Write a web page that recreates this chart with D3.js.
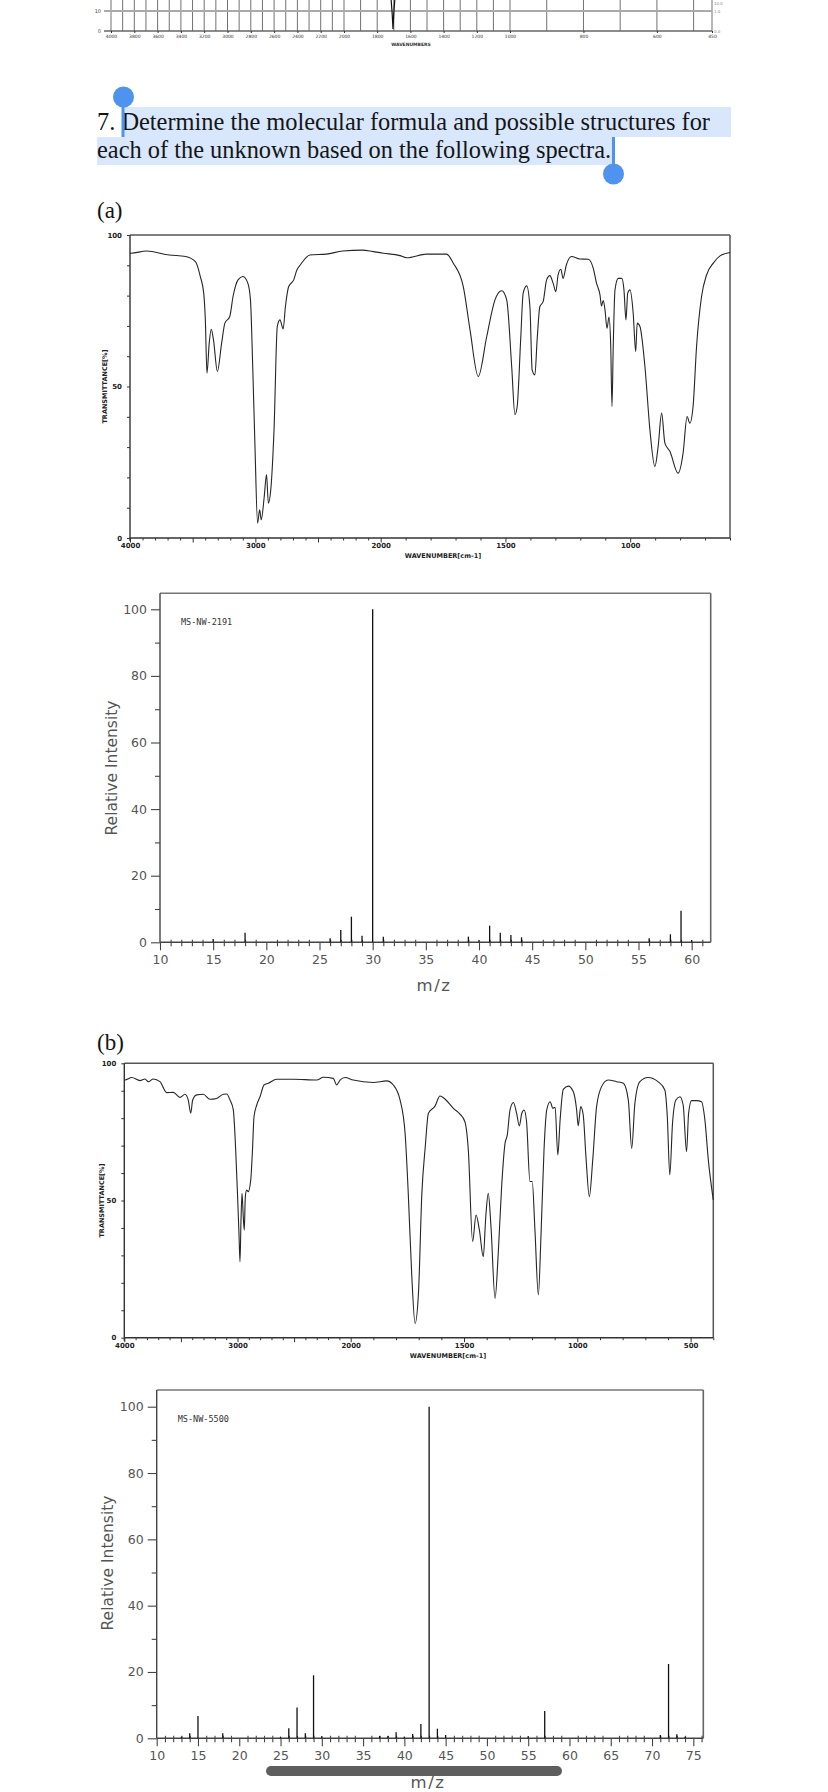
<!DOCTYPE html>
<html><head><meta charset="utf-8">
<script src="https://cdn.jsdelivr.net/npm/d3@7"></script>
<style>body{margin:0;background:#fff;} svg{display:block;}</style>
</head><body>
<svg id="c" width="828" height="1792"></svg>
<script>
// ---------- DATA ----------
// partial spectrum strip at the very top
const topGridWavenumbers = d3.range(4000, 499, -100).concat([450]);
const topTickLabels = [4000,3800,3600,3400,3200,3000,2800,2600,2400,2200,2000,1800,1600,1400,1200,1000,800,600,450];
const topStripWn = [1716, 1710, 1705, 1700, 1694];
const topStripT  = [16, 9, 1, 9, 16];

// IR (a)
const irA_wn = [4000,3992,3869,3687,3556,3478,3439,3412,3399,3386,
3368,3352,3334,3303,3269,3243,3204,3178,3138,3099,
3060,3039,3021,3003,2982,2966,2953,2929,2911,2896,
2877,2851,2825,2804,2778,2760,2734,2694,2668,2642,
2564,2433,2303,2146,2060,1989,1923,1896,1816,1736,
1709,1669,1642,1609,1575,1542,1515,1495,1475,1462,
1453,1439,1429,1415,1402,1393,1382,1373,1362,1349,
1335,1322,1309,1298,1289,1278,1269,1256,1235,1202,
1168,1148,1135,1121,1115,1108,1101,1093,1085,1078,
1073,1068,1061,1048,1034,1025,1017,1010,1001,988,
978,972,961,941,921,901,888,874,861,841,
808,788,772,761,748,734,714,694,667,640,
600];
const irA_T = [94,94,94.7,93.4,92.9,91.2,86.3,80.8,72,54.4,
64.3,68.9,65.4,55,64.3,70.9,73.1,79.7,85.2,86.3,
84.1,78.6,56.6,30.2,4.9,9.3,6,13.7,20.9,11.5,
15.9,35.7,69.8,72,69,76.4,83,85.2,88.5,90.1,
93.4,93.7,94.7,95,94.5,94,93.2,92.5,93.7,93.7,
90.7,83,68.7,53.3,66.5,78.6,81.6,78.6,56.6,40.7,
43.4,65.4,80.8,83.2,76.4,55.5,53.8,65.4,76.4,78,
85.2,86.6,84.1,81.3,86.8,88.7,85.7,90.1,92.9,92.1,
92,89,84.1,80.2,76.6,78.4,75.3,69.2,72.9,63.2,
43.4,63.2,81.9,85.7,85.7,81.9,72,80.8,81.9,74.2,
61.5,70.9,69.8,56.6,35.7,23.6,30.2,41.2,31.3,28.6,
21.4,28,40.1,37.9,43.4,63.2,79.7,86.8,90.7,93.1,
94.2];
const irA_tickLabels = [4000,3000,2000,1500,1000];

// IR (b)
const irB_wn = [4000,3994,3935,3861,3817,3788,3744,3685,3625,3567,
3508,3464,3435,3413,3396,3360,3302,3243,3184,3125,
3095,3066,3037,3016,2998,2987,2978,2969,2960,2949,
2940,2931,2919,2905,2883,2869,2854,2830,2801,2766,
2728,2654,2507,2300,2242,2154,2124,2094,2050,1989,
1900,1841,1812,1782,1760,1746,1731,1716,1701,1686,
1671,1657,1628,1606,1584,1547,1518,1496,1481,1462,
1447,1432,1415,1404,1393,1381,1363,1349,1334,1319,
1309,1297,1282,1268,1256,1245,1235,1224,1209,1199,
1187,1172,1160,1147,1135,1120,1108,1098,1086,1076,
1062,1040,1018,1003,996,985,974,962,947,932,
915,893,864,827,797,775,760,746,724,688,
644,614,603,592,580,565,547,533,518,509,
496,474,452,437,422,400];
const irB_T = [94,93.9,94.8,93.7,94.3,93.3,94.3,93.3,89.3,89.4,
87.6,88.7,86.6,81.8,86.6,88.5,88.7,86.9,87.2,88.7,
88.8,86.6,83,68.4,50.2,38,27.7,42.9,52.6,44.1,
39.2,51.4,53.8,53.2,57.5,67.2,80.6,84.8,87.8,92.1,
92.7,94.2,94.2,93.9,94.9,94.5,92.1,93.9,94.8,93.9,
93,93.6,92.1,86.6,74.5,52.6,23.5,5.2,16.2,52.6,
69.6,81.8,84.4,88.1,87,83.6,81.5,78.7,68.4,35,
44.7,39.2,29.5,44.1,52.6,40.5,14.3,30.7,55,70.8,
73.9,83,85.7,81.8,77.2,81.8,83,78.7,56.9,56.9,
39.2,15.6,38,68.4,83,86,83.6,84,66.6,79.3,
90.5,91.7,89.7,83,77.2,84.2,81.2,66,51.4,64.8,
84.2,91.5,93.9,93.3,92.7,86.6,69,85.4,93.3,94.8,
93.3,90.3,80.6,59.3,78.1,86.6,87.8,84.8,67.8,81.8,
86.4,86.4,86,79.3,64.8,50.2];
const irB_tickLabels = [4000,3000,2000,1500,1000,500];
const irYLabels = [0,50,100];

// MS (a)
const msA_mz = [15,18,26,27,28,29,30,31,39,40,41,42,43,44,56,58,59,60];
const msA_int = [1,2.9,1.2,3.7,7.7,2,100,1.7,1.7,0.7,5,2.9,2.2,1.5,1.2,2.4,9.5,0.7];
const msA_xTicks = [10,15,20,25,30,35,40,45,50,55,60];
// MS (b)
const msB_mz = [13,14,15,18,25,26,27,28,29,30,37,38,39,40,41,42,43,44,45,55,57,71,72,73,74];
const msB_int = [0.5,1.5,6.7,1.5,0.5,3,9.3,1.5,19,0.7,0.7,0.7,1.8,0.5,1.3,4.3,100,2.9,1,0.7,8.2,1,22.4,1.2,0.5];
const msB_xTicks = [10,15,20,25,30,35,40,45,50,55,60,65,70,75];
const msYTicks = [0,20,40,60,80,100];

// ---------- DRAW ----------
const svg = d3.select('#c');
const SERIF = '"Liberation Serif","Times New Roman",serif';
const SANS = '"DejaVu Sans",sans-serif';

// --- top partial strip
(function(){
  const x = d3.scaleLinear().domain([4000,2000,1000,450]).range([111,344,510,712]);
  const y = d3.scaleLinear().domain([0,10]).range([31,11]);
  const g = svg.append('g');
  g.selectAll('line.v').data(topGridWavenumbers).join('line')
    .attr('x1',d=>x(d)).attr('x2',d=>x(d)).attr('y1',0).attr('y2',31)
    .attr('stroke','#333').attr('stroke-width',0.7);
  g.append('line').attr('x1',104).attr('x2',712).attr('y1',y(10)).attr('y2',y(10))
    .attr('stroke','#aaa').attr('stroke-width',2);
  g.append('line').attr('x1',104).attr('x2',712).attr('y1',y(0)).attr('y2',y(0))
    .attr('stroke','#666').attr('stroke-width',1.5);
  const ax = g.append('g').attr('transform','translate(0,31)')
    .call(d3.axisBottom(x).tickValues(topTickLabels).tickSize(2).tickPadding(2).tickFormat(d3.format('d')));
  ax.select('.domain').remove();
  ax.selectAll('text').attr('font-size',4.5).attr('font-family',SANS).attr('fill','#333');
  ax.selectAll('line').attr('stroke','#333');
  g.append('text').attr('x',101).attr('y',y(10)+2).attr('text-anchor','end').attr('font-size',5).attr('font-family',SANS).attr('fill','#444').text('10');
  g.append('text').attr('x',101).attr('y',y(0)+2).attr('text-anchor','end').attr('font-size',5).attr('font-family',SANS).attr('fill','#444').text('0');
  g.append('text').attr('x',714).attr('y',5).attr('font-size',4).attr('font-family',SANS).attr('fill','#888').text('10.0');
  g.append('text').attr('x',714).attr('y',y(10)+2).attr('font-size',4).attr('font-family',SANS).attr('fill','#888').text('1.0');
  g.append('text').attr('x',714).attr('y',y(0)+2).attr('font-size',4).attr('font-family',SANS).attr('fill','#888').text('0.0');
  g.append('text').attr('x',411).attr('y',46).attr('text-anchor','middle').attr('font-size',4.5).attr('font-weight','bold').attr('font-family',SANS).attr('fill','#333').text('WAVENUMBERS');
  const line = d3.line().x((d,i)=>x(topStripWn[i])).y((d,i)=>Math.max(0,y(topStripT[i])));
  g.append('path').datum(topStripWn).attr('d',line).attr('fill','none').attr('stroke','#111').attr('stroke-width',1.2);
})();

// --- title with selection highlight
svg.append('rect').attr('x',123).attr('y',107).attr('width',608).attr('height',30).attr('fill','#d8e7fb');
svg.append('rect').attr('x',97).attr('y',137).attr('width',517).attr('height',28).attr('fill','#d8e7fb');
svg.append('text').attr('x',97).attr('y',130).attr('font-family',SERIF).attr('font-size',24.4).attr('fill','#151515')
  .text('7. Determine the molecular formula and possible structures for');
svg.append('text').attr('x',97).attr('y',158).attr('font-family',SERIF).attr('font-size',24.4).attr('fill','#151515')
  .text('each of the unknown based on the following spectra.');
const BLUE = '#4f93ee';
svg.append('rect').attr('x',121.5).attr('y',100).attr('width',3).attr('height',37).attr('fill',BLUE);
svg.append('circle').attr('cx',123.5).attr('cy',97).attr('r',10.5).attr('fill',BLUE);
svg.append('rect').attr('x',612).attr('y',137).attr('width',3).attr('height',34).attr('fill',BLUE);
svg.append('circle').attr('cx',613.5).attr('cy',174).attr('r',10.5).attr('fill',BLUE);

// section labels
svg.append('text').attr('x',97).attr('y',218).attr('font-family',SERIF).attr('font-size',23).attr('fill','#151515').text('(a)');
svg.append('text').attr('x',97).attr('y',1050).attr('font-family',SERIF).attr('font-size',23).attr('fill','#151515').text('(b)');

// --- IR chart
function drawIR(o){
  const x = d3.scaleLinear().domain(o.xDomain).range(o.xRange);
  const y = d3.scaleLinear().domain([0,100]).range(o.yRange);
  const g = svg.append('g');
  const L = o.xRange[0], R = o.xRange[o.xRange.length-1], T = y(100), B = y(0);
  g.append('line').attr('x1',L).attr('x2',R).attr('y1',T).attr('y2',T).attr('stroke','#555').attr('stroke-width',1.5);
  g.append('line').attr('x1',R).attr('x2',R).attr('y1',T).attr('y2',B).attr('stroke','#555').attr('stroke-width',1.5);
  // x ticks
  const minor = d3.range(o.xDomain[0], o.xDomain[o.xDomain.length-1]-1, -100);
  const ax1 = g.append('g').attr('transform',`translate(0,${B})`)
    .call(d3.axisBottom(x).tickValues(minor.filter(v=>v%500!==0)).tickSize(2.5).tickFormat(''));
  ax1.select('.domain').remove();
  const ax2 = g.append('g').attr('transform',`translate(0,${B})`)
    .call(d3.axisBottom(x).tickValues(minor.filter(v=>v%500===0)).tickSize(4.5).tickFormat(''));
  ax2.select('.domain').remove();
  const ax3 = g.append('g').attr('transform',`translate(0,${B})`)
    .call(d3.axisBottom(x).tickValues(o.labels).tickSize(0).tickPadding(5).tickFormat(d3.format('d')));
  ax3.select('.domain').remove();
  ax3.selectAll('text').attr('font-size',7).attr('font-weight','bold').attr('font-family',SANS).attr('fill','#222');
  g.selectAll('.tick line').attr('stroke','#333');
  // y ticks
  const ay = g.append('g').attr('transform',`translate(${L},0)`)
    .call(d3.axisLeft(y).tickValues(d3.range(0,101,10)).tickSize(3).tickFormat(''));
  ay.select('.domain').remove();
  ay.selectAll('line').attr('stroke','#333');
  const ayl = g.append('g').attr('transform',`translate(${L},0)`)
    .call(d3.axisLeft(y).tickValues(irYLabels).tickSize(0).tickPadding(8).tickFormat(d3.format('d')));
  ayl.select('.domain').remove();
  ayl.selectAll('text').attr('font-size',7).attr('font-weight','bold').attr('font-family',SANS).attr('fill','#222');
  // axes lines
  g.append('line').attr('x1',L).attr('x2',R).attr('y1',B).attr('y2',B).attr('stroke','#333').attr('stroke-width',1.4);
  g.append('line').attr('x1',L).attr('x2',L).attr('y1',T).attr('y2',B+3).attr('stroke','#333').attr('stroke-width',1.4);
  // labels
  g.append('text').attr('transform',`translate(${o.yTitleX},${(T+B)/2}) rotate(-90)`).attr('text-anchor','middle')
    .attr('font-size',6.5).attr('font-weight','bold').attr('font-family',SANS).attr('fill','#222').text('TRANSMITTANCE[%]');
  g.append('text').attr('x',o.xTitleX).attr('y',B+20).attr('text-anchor','middle')
    .attr('font-size',6.5).attr('font-weight','bold').attr('font-family',SANS).attr('fill','#222').text('WAVENUMBER[cm-1]');
  // spectrum
  const line = d3.line().x((d,i)=>x(o.wn[i])).y((d,i)=>y(o.T[i])).curve(d3.curveMonotoneX);
  g.append('path').datum(o.wn).attr('d',line).attr('fill','none').attr('stroke','#262626').attr('stroke-width',1.1);
}
drawIR({xDomain:[4000,2000,600], xRange:[130,380.7,730], yRange:[538,235], wn:irA_wn, T:irA_T, labels:irA_tickLabels, yTitleX:107, xTitleX:443});
drawIR({xDomain:[4000,2000,400], xRange:[124.3,350.7,713.3], yRange:[1337.7,1063.3], wn:irB_wn, T:irB_T, labels:irB_tickLabels, yTitleX:104, xTitleX:448});

// --- MS chart
function drawMS(o){
  const x = d3.scaleLinear().domain(o.xDomain).range(o.xRange);
  const y = d3.scaleLinear().domain([0,100]).range(o.yRange);
  const g = svg.append('g');
  const L = o.xRange[0], R = o.xRange[1], B = y(0), FT = o.frameTop;
  g.append('line').attr('x1',L).attr('x2',R).attr('y1',FT).attr('y2',FT).attr('stroke','#777').attr('stroke-width',1.6);
  g.append('line').attr('x1',R).attr('x2',R).attr('y1',FT).attr('y2',B).attr('stroke','#666').attr('stroke-width',1.6);
  const tickStyle = sel => { sel.select('.domain').remove(); sel.selectAll('line').attr('stroke','#444').attr('stroke-width',1.1); };
  // y axis
  const ayMinor = g.append('g').attr('transform',`translate(${L},0)`)
    .call(d3.axisLeft(y).tickValues([10,30,50,70,90]).tickSize(5).tickFormat(''));
  tickStyle(ayMinor);
  const ay = g.append('g').attr('transform',`translate(${L},0)`)
    .call(d3.axisLeft(y).tickValues(msYTicks).tickSize(9).tickPadding(4).tickFormat(d3.format('d')));
  tickStyle(ay);
  ay.selectAll('text').attr('font-size',12.5).attr('font-family',SANS).attr('fill','#555');
  // x axis
  const ints = d3.range(Math.ceil(o.xDomain[0]), Math.floor(o.xDomain[1])+1).filter(v=>v%5!==0);
  const axMinor = g.append('g').attr('transform',`translate(0,${B})`)
    .call(d3.axisBottom(x).tickValues(ints).tickSize(4).tickFormat(''));
  tickStyle(axMinor);
  axMinor.selectAll('line').attr('y1',-2.5);
  const ax = g.append('g').attr('transform',`translate(0,${B})`)
    .call(d3.axisBottom(x).tickValues(o.xTicks).tickSize(8).tickPadding(5).tickFormat(d3.format('d')));
  tickStyle(ax);
  ax.selectAll('text').attr('font-size',12.5).attr('font-family',SANS).attr('fill','#555');
  // axis lines
  g.append('line').attr('x1',L).attr('x2',L).attr('y1',FT).attr('y2',B).attr('stroke','#444').attr('stroke-width',1.4);
  g.append('line').attr('x1',L).attr('x2',R).attr('y1',B).attr('y2',B).attr('stroke','#444').attr('stroke-width',1.4);
  // peaks
  g.selectAll('line.pk').data(o.mz).join('line').attr('class','pk')
    .attr('x1',d=>x(d)).attr('x2',d=>x(d)).attr('y1',B).attr('y2',(d,i)=>y(o.int[i]))
    .attr('stroke','#111').attr('stroke-width',1.3);
  // labels
  g.append('text').attr('x',L+21).attr('y',o.idY).attr('font-family','"DejaVu Sans Mono",monospace').attr('font-size',8.5).attr('fill','#333').text(o.id);
  g.append('text').attr('transform',`translate(${o.yTitleX},${o.yTitleY}) rotate(-90)`).attr('text-anchor','middle')
    .attr('font-size',15.5).attr('font-family',SANS).attr('fill','#555').text('Relative Intensity');
  g.append('text').attr('x',o.mzX).attr('y',o.mzY).attr('text-anchor','middle').attr('letter-spacing',1.5)
    .attr('font-size',16.5).attr('font-family',SANS).attr('fill','#555').text('m/z');
}
drawMS({xDomain:[10,61.79], xRange:[160,710.7], yRange:[942.3,609.3], frameTop:593.3, mz:msA_mz, int:msA_int, xTicks:msA_xTicks,
  id:'MS-NW-2191', idY:625, yTitleX:117, yTitleY:768, mzX:434, mzY:991});
drawMS({xDomain:[10,76.21], xRange:[156.7,703.3], yRange:[1738.3,1406.7], frameTop:1390, mz:msB_mz, int:msB_int, xTicks:msB_xTicks,
  id:'MS-NW-5500', idY:1421.5, yTitleX:113, yTitleY:1563, mzX:428, mzY:1788});

// overlay scroll indicator
svg.append('rect').attr('x',266).attr('y',1766).attr('width',296).attr('height',10).attr('rx',5).attr('fill','#5e5e5e');
</script>
</body></html>
